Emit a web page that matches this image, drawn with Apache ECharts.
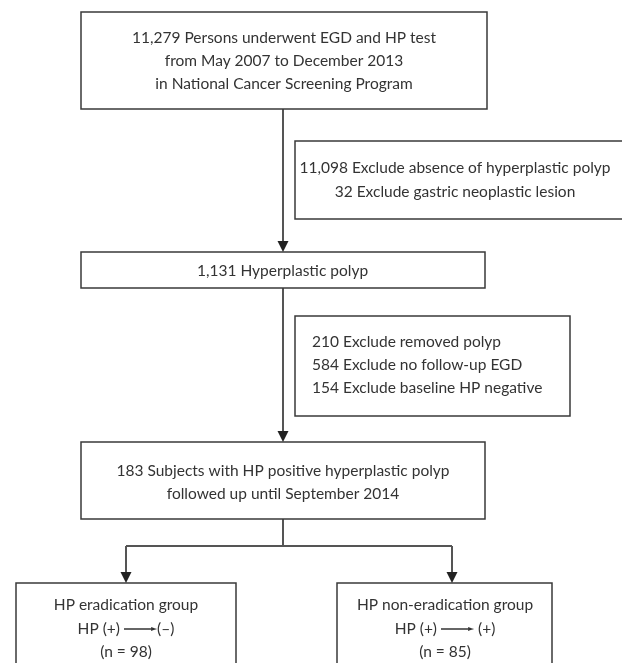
<!DOCTYPE html>
<html>
<head>
<meta charset="utf-8">
<script src="https://cdn.jsdelivr.net/npm/echarts@6/dist/echarts.min.js"></script>
<style>html,body{margin:0;padding:0;background:#fff}#c{width:622px;height:663px}</style>
</head>
<body>
<div id="c"></div>
<script>
// ---- data ----
const screenedCount = 11279;
const screenedText = ['Persons underwent EGD and HP test', 'from May 2007 to December 2013', 'in National Cancer Screening Program'];
const exclusion1Counts = [11098, 32];
const exclusion1Labels = ['Exclude absence of hyperplastic polyp', 'Exclude gastric neoplastic lesion'];
const polypCount = 1131;
const polypLabel = 'Hyperplastic polyp';
const exclusion2Counts = [210, 584, 154];
const exclusion2Labels = ['Exclude removed polyp', 'Exclude no follow-up EGD', 'Exclude baseline HP negative'];
const subjectsCount = 183;
const subjectsText = ['Subjects with HP positive hyperplastic polyp', 'followed up until September 2014'];
const groupNames = ['HP eradication group', 'HP non-eradication group'];
const groupStatusAfter = ['(–)', ' (+)'];
const groupCounts = [98, 85];

// ---- build ----
const fmt = n => n.toLocaleString('en-US');
const FONT = 'Lato';
const FS = 15.5;
const TXT = '#333';
const BORDER = '#3a3a3a';
const LINK = '#555';

function box(x, y, w, h) {
  return { type: 'rect', shape: { x, y, width: w, height: h }, style: { fill: '#fff', stroke: BORDER, lineWidth: 1.5 }, z: 2 };
}
function text(x, y, str, align, lh, extra) {
  return {
    type: 'text', x, y, z: 3,
    style: Object.assign({ text: str, fill: TXT, font: FS + 'px ' + FONT, align: align || 'center', verticalAlign: 'middle', lineHeight: lh || 23 }, extra || {})
  };
}
function line(x1, y1, x2, y2) {
  return { type: 'line', shape: { x1, y1, x2, y2 }, style: { stroke: LINK, lineWidth: 2 }, z: 1 };
}
function head(x, yTip) {
  return { type: 'polygon', shape: { points: [[x - 5.5, yTip - 11], [x + 5.5, yTip - 11], [x, yTip]] }, style: { fill: '#222' }, z: 4 };
}

const g = [];
// top box
g.push(box(81, 12, 406, 97));
g.push(text(284, 61, [fmt(screenedCount) + ' ' + screenedText[0], screenedText[1], screenedText[2]].join('\n'), 'center', 23));
// link to box 2
g.push(line(283, 109, 283, 244));
g.push(head(283, 252));
// exclusion 1
g.push(box(295, 141, 340, 78));
g.push(text(455, 180, exclusion1Counts.map((c, i) => fmt(c) + ' ' + exclusion1Labels[i]).join('\n'), 'center', 24));
// box 2
g.push(box(81, 252, 404, 36));
g.push(text(197, 271, fmt(polypCount) + ' ' + polypLabel, 'left', 23));
// link to box3
g.push(line(283, 288, 283, 434));
g.push(head(283, 442));
// exclusion 2
g.push(box(295, 316, 275, 100));
g.push(text(312, 365, exclusion2Counts.map((c, i) => fmt(c) + ' ' + exclusion2Labels[i]).join('\n'), 'left', 23));
// box 3
g.push(box(81, 442, 404, 77));
g.push(text(283, 482, fmt(subjectsCount) + ' ' + subjectsText[0] + '\n' + subjectsText[1], 'center', 23));
// split
const gx = [126, 452];
g.push(line(283, 519, 283, 546));
g.push(line(gx[0], 546, gx[1], 546));
gx.forEach(x => { g.push(line(x, 546, x, 575)); g.push(head(x, 583)); });
// group boxes
const gb = [[16, 220, 126], [337, 215, 445]];
gb.forEach((b, i) => {
  g.push(box(b[0], 583, b[1], 110));
  g.push(text(b[2], 605, groupNames[i], 'center', 23));
  g.push(text(b[2], 629, '{t|HP (+) }{l|}{h|►}{t|' + groupStatusAfter[i] + '}', 'center', 23, {
    rich: {
      t: { fill: TXT, font: FS + 'px ' + FONT },
      l: { width: 27, height: 1.5, backgroundColor: '#333', verticalAlign: 'middle' },
      h: { fill: '#333', font: '8px DejaVu Sans', verticalAlign: 'middle' }
    }
  }));
  g.push(text(b[2], 652, '(n = ' + groupCounts[i] + ')', 'center', 23));
});

const chart = echarts.init(document.getElementById('c'), null, { renderer: 'canvas' });
chart.setOption({ backgroundColor: '#fff', animation: false, graphic: { elements: g } });
</script>
</body>
</html>
